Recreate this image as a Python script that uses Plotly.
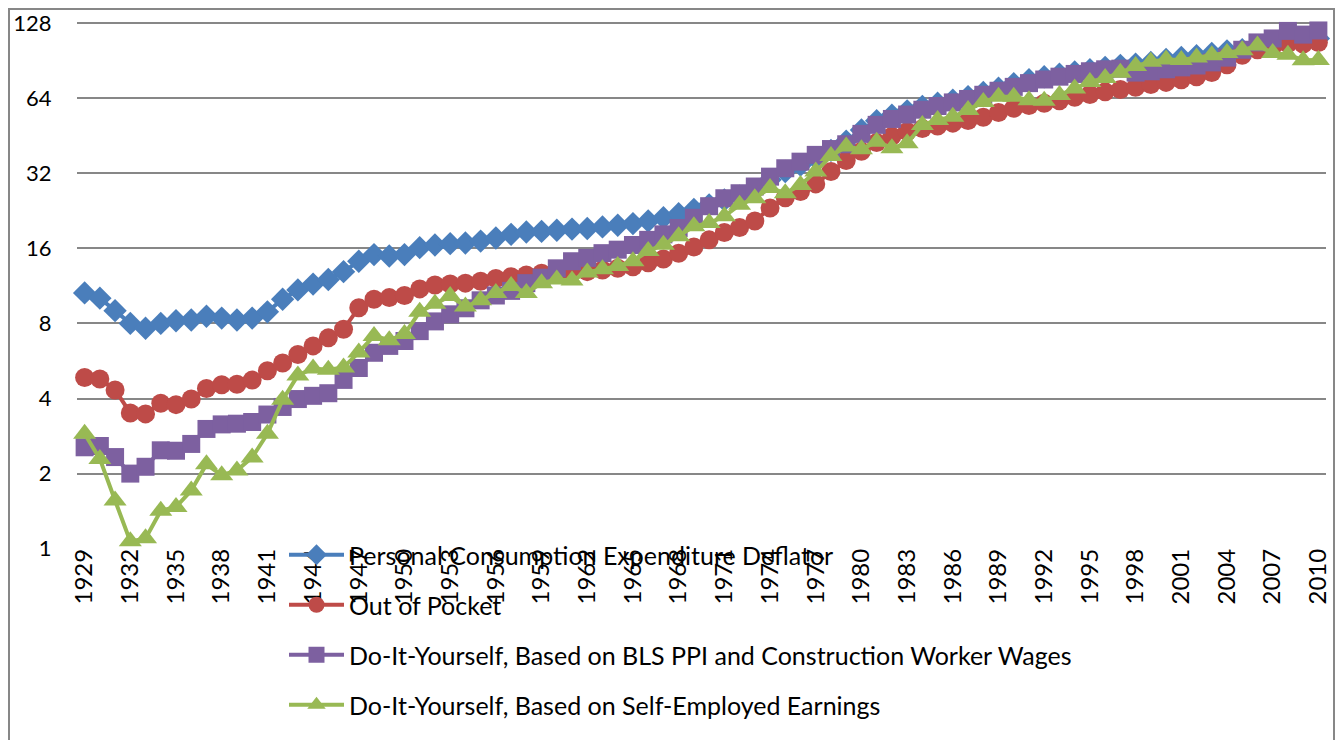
import plotly.graph_objects as go

years = list(range(1929, 2011))

pce_deflator = [
    10.6, 10.1, 9.0, 8.0, 7.65, 8.0, 8.2, 8.25, 8.55, 8.4,
    8.25, 8.4, 8.9, 10.0, 10.9, 11.5, 12.0, 12.9, 14.2, 15.1,
    14.9, 15.1, 16.1, 16.5, 16.7, 16.8, 17.1, 17.6, 18.2, 18.6,
    18.7, 18.9, 19.1, 19.2, 19.5, 19.8, 20.1, 20.6, 21.2, 22.0,
    22.9, 23.9, 25.0, 25.9, 27.5, 30.1, 32.5, 34.5, 36.8, 39.5,
    43.0, 47.7, 51.9, 54.7, 56.9, 59.2, 61.1, 62.8, 64.9, 67.4,
    70.1, 73.1, 75.9, 78.0, 79.8, 81.5, 83.2, 85.0, 86.6, 87.6,
    89.0, 91.4, 93.2, 94.7, 96.6, 99.0, 100.0, 102.7, 105.5, 108.9,
    109.1, 111.0,
]

out_of_pocket = [
    4.86, 4.79, 4.33, 3.50, 3.47, 3.83, 3.78, 3.98, 4.39, 4.54,
    4.56, 4.74, 5.17, 5.55, 6.0, 6.5, 7.0, 7.58, 9.25, 10.0,
    10.15, 10.35, 11.0, 11.4, 11.5, 11.6, 11.8, 12.1, 12.3, 12.5,
    12.7, 12.75, 12.9, 12.9, 13.1, 13.3, 13.5, 14.0, 14.5, 15.3,
    16.2, 17.3, 18.5, 19.4, 20.6, 23.2, 25.5, 27.0, 29.0, 32.5,
    36.0, 39.2, 42.5, 45.0, 47.0, 48.3, 49.5, 50.8, 52.0, 53.6,
    56.0, 58.3, 59.8, 61.0, 62.5, 64.5, 66.2, 67.8, 69.3, 70.8,
    72.5, 74.0, 75.8, 78.0, 81.0, 87.0, 95.0, 100.0, 103.0, 106.0,
    105.5, 107.0,
]

diy_bls_ppi_wages = [
    2.55, 2.58, 2.33, 2.0, 2.13, 2.48, 2.47, 2.63, 3.02, 3.15,
    3.17, 3.22, 3.45, 3.7, 3.98, 4.1, 4.2, 4.75, 5.3, 6.1,
    6.5, 6.8, 7.45, 8.15, 8.7, 9.2, 9.9, 10.35, 10.8, 11.6,
    12.2, 13.3, 14.2, 14.65, 15.3, 15.8, 16.5, 17.3, 18.2, 19.3,
    21.2, 23.6, 25.4, 26.6, 28.3, 31.0, 33.5, 35.6, 37.9, 40.0,
    41.8, 46.0, 50.0, 52.8, 55.0, 57.5, 59.5, 61.5, 63.5, 66.0,
    68.5, 71.0, 73.5, 76.0, 78.0, 80.0, 82.0, 83.5, 84.0, 81.0,
    82.0, 83.5, 85.0, 86.5, 89.0, 93.0, 100.0, 107.0, 111.0, 119.0,
    115.0, 119.5,
]

diy_self_employed = [
    2.89, 2.29, 1.56, 1.07, 1.10, 1.42, 1.47, 1.71, 2.18, 1.97,
    2.06, 2.32, 2.89, 3.95, 4.95, 5.28, 5.22, 5.33, 6.12, 7.13,
    6.85, 7.25, 8.9, 9.6, 10.3, 9.35, 9.9, 10.6, 11.3, 10.6,
    11.6, 12.0, 11.9, 12.8, 13.2, 13.6, 14.2, 15.6, 16.55, 17.9,
    19.6, 20.2, 21.5, 23.9, 25.4, 27.9, 26.6, 28.7, 32.5, 37.5,
    40.9, 39.9, 42.8, 40.3, 42.2, 49.9, 52.3, 53.9, 57.3, 61.8,
    64.8, 64.8, 62.8, 62.5, 65.8, 70.0, 74.3, 77.1, 80.8, 86.0,
    89.5, 91.5, 91.0, 93.0, 95.0, 97.0, 99.5, 104.0, 97.0, 95.5,
    90.8, 91.0,
]

series_names = [
    "Personal Consumption Expenditure Deflator",
    "Out of Pocket",
    "Do-It-Yourself, Based on BLS PPI and Construction Worker Wages",
    "Do-It-Yourself, Based on Self-Employed Earnings",
]
series_values = [pce_deflator, out_of_pocket, diy_bls_ppi_wages, diy_self_employed]
series_colors = ["#4A7EBB", "#BE4B48", "#7D60A0", "#98B954"]
series_symbols = ["diamond", "circle", "square", "triangle-up"]
series_sizes = [18, 19, 18, 20]

y_ticks = [1, 2, 4, 8, 16, 32, 64, 128]
x_ticks = list(range(1929, 2011, 3))

FONT = "Lato, Carlito, Calibri, sans-serif"
FS_LEG = 25
FS_XTICK = 24
FS_YTICK = 22

fig = go.Figure()
for i, (name, vals, col, sym, sz) in enumerate(
    zip(series_names, series_values, series_colors, series_symbols, series_sizes)
):
    fig.add_trace(
        go.Scatter(
            x=years,
            y=vals,
            name=name,
            mode="lines+markers",
            line=dict(color=col, width=4),
            marker=dict(symbol=sym, size=sz, color=col, line=dict(width=0)),
            cliponaxis=False,
            legendgroup=f"g{i}",
        )
    )

# the page body has an 8px default margin, so the figure is sized to fit
OFF = 8
W, H = 1335, 732
L, R, T, B = 69, 17, 12, 191
pw = W - L - R
ph = H - T - B


def px_x(page_x):
    return (page_x - OFF - L) / pw


def px_y(page_y):
    return (H - B - (page_y - OFF)) / ph


fig.update_layout(
    width=W,
    height=H,
    margin=dict(l=L, r=R, t=T, b=B, pad=0, autoexpand=False),
    paper_bgcolor="white",
    plot_bgcolor="white",
    font=dict(family=FONT, size=FS_LEG, color="#000000"),
    showlegend=True,
    legend=dict(
        x=px_x(284),
        y=px_y(532),
        xanchor="left",
        yanchor="top",
        bgcolor="rgba(0,0,0,0)",
        font=dict(family=FONT, size=FS_LEG, color="#000000"),
        tracegroupgap=14.5,
        itemwidth=55,
        traceorder="grouped",
    ),
    xaxis=dict(
        range=[1928.5, 2010.5],
        tickmode="array",
        tickvals=x_ticks,
        ticktext=[str(v) for v in x_ticks],
        tickangle=-90,
        showgrid=False,
        zeroline=False,
        showline=False,
        automargin=False,
        ticks="",
        ticklabelstandoff=-6,
        ticklabeloverflow="allow",
        tickfont=dict(family=FONT, size=FS_XTICK, color="#000000"),
    ),
    yaxis=dict(
        type="log",
        range=[-0.0012, 2.1193],
        tickmode="array",
        tickvals=y_ticks,
        ticktext=[str(v) for v in y_ticks],
        showgrid=True,
        gridcolor="#878787",
        gridwidth=2,
        zeroline=False,
        showline=False,
        automargin=False,
        ticks="outside",
        ticklen=20,
        tickcolor="rgba(0,0,0,0)",
        ticklabeloverflow="allow",
        tickfont=dict(family=FONT, size=FS_YTICK, color="#000000"),
    ),
    shapes=[
        dict(
            type="rect",
            xref="paper",
            yref="paper",
            x0=px_x(OFF + 1),
            x1=px_x(1334),
            y0=px_y(780),
            y1=px_y(OFF + 1),
            line=dict(color="#878787", width=2),
            fillcolor="rgba(0,0,0,0)",
            layer="below",
        )
    ],
)

fig.write_html("out.html")
